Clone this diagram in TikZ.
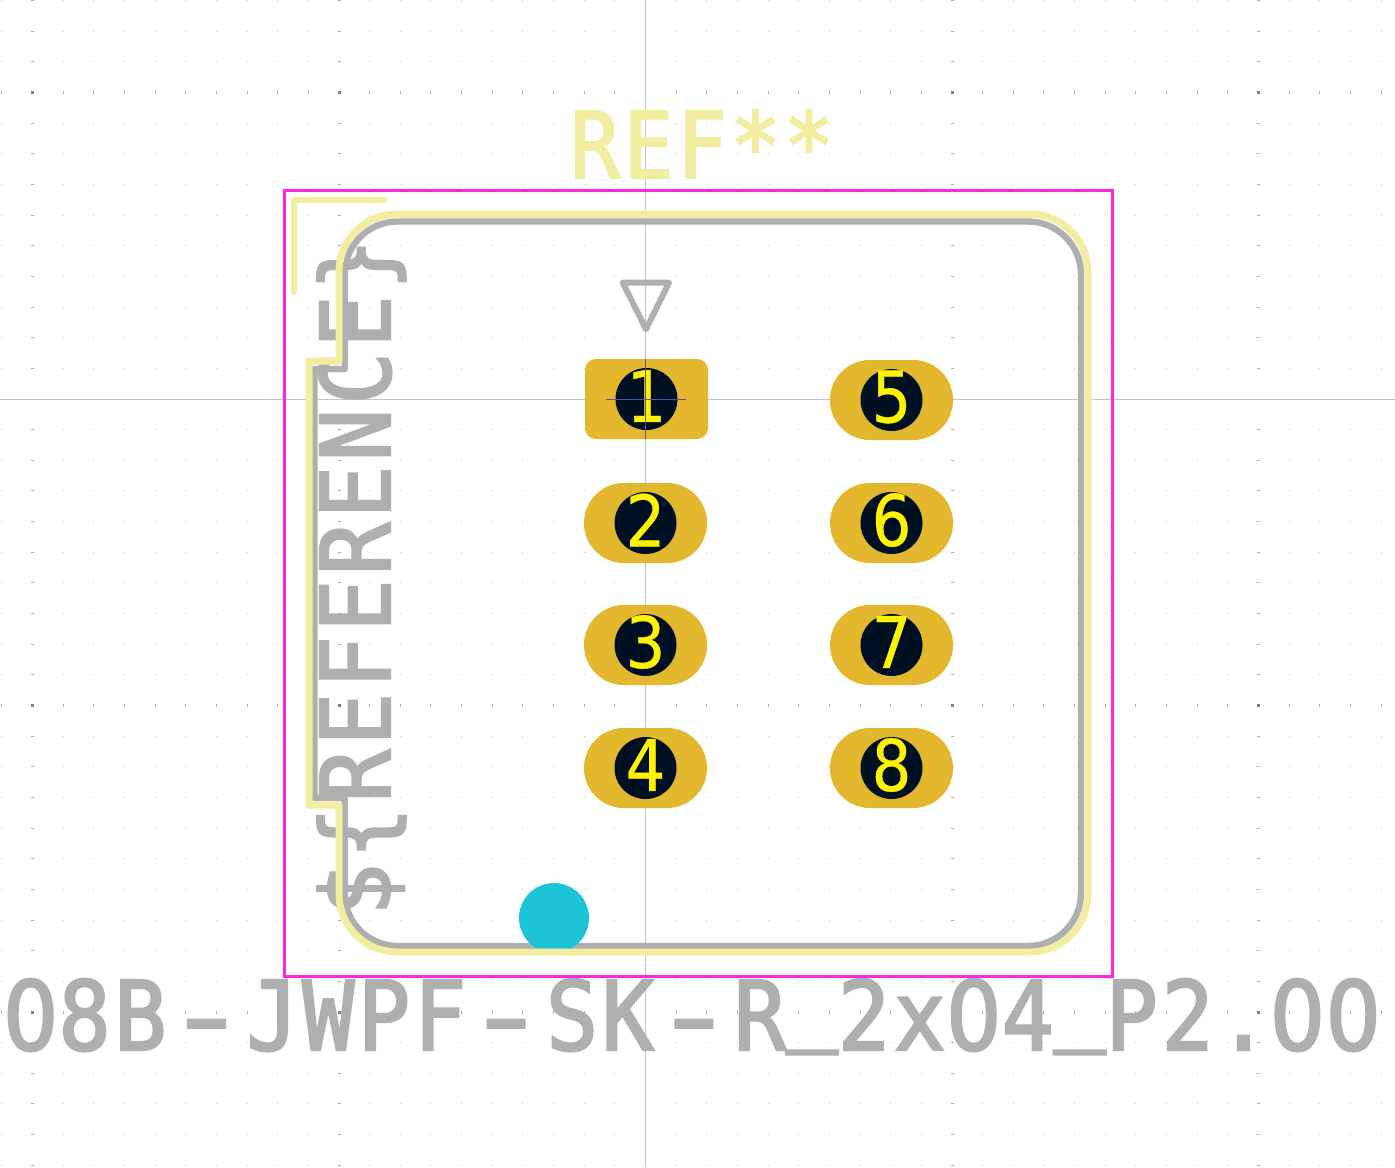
\documentclass[tikz,border=0pt]{standalone}
\usepackage{fontspec}
\usepackage{graphicx}
\usepackage{tikz}
\usetikzlibrary{positioning}
\newfontfamily\strokefont{DejaVu Sans Mono}[FakeBold=2.5,FakeStretch=0.9,LetterSpace=4]
\newfontfamily\zerofont{DejaVu Sans}[FakeBold=2.5,FakeStretch=0.9]
\newfontfamily\padfont{DejaVu Sans}[FakeBold=0.5,FakeStretch=0.88]
\newcommand{\plainzero}{\makebox[0.582em][c]{\zerofont 0}}
\newcommand{\longdash}{\makebox[40pt][c]{\scalebox{1.6}[1]{-}}}
\newcommand{\raisedbar}{\raisebox{0.19em}{\_}}
\definecolor{silkcolor}{HTML}{F2EDA1}
\definecolor{fabcolor}{HTML}{AFAFAF}
\definecolor{crtyardcolor}{HTML}{FF26E2}
\definecolor{padcolor}{HTML}{E3B72E}
\definecolor{holecolor}{HTML}{001023}
\definecolor{axiscolor}{HTML}{C4C4C4}
\definecolor{anchorcolor}{HTML}{5B4FA0}
\definecolor{markcolor}{HTML}{1CC4D6}
\begin{document}
\begin{tikzpicture}[
  x=0.5pt, y=-0.5pt,
  silkline/.style={draw=silkcolor, line width=3.5pt, line join=round},
  fabline/.style={draw=fabcolor, line width=3.2pt, line join=round},
  crtyard/.style={draw=crtyardcolor, line width=1.5pt},
  axisline/.style={draw=axiscolor, line width=0.5pt},
  anchorline/.style={draw=anchorcolor, line width=0.4pt},
  ovalpad/.style={rectangle, fill=padcolor, rounded corners=19.9pt, inner sep=0pt, outer sep=0pt,
                minimum width=61.5pt, minimum height=40pt},
  rectpad/.style={ovalpad, rounded corners=5.5pt},
  drillhole/.style={circle, fill=holecolor, inner sep=0pt, minimum size=31pt},
  padnum/.style={inner sep=0pt, text=yellow, font=\padfont\fontsize{35.5pt}{36pt}\selectfont},
  fabtext/.style={inner sep=0pt, anchor=base, text=fabcolor,
                font=\strokefont\fontsize{48pt}{48pt}\selectfont},
  silktext/.style={fabtext, text=silkcolor, font=\strokefont\fontsize{46pt}{46pt}\selectfont}
]
  \useasboundingbox (0,0) rectangle (1395,1167);
  \fill[white] (0,0) rectangle (1395,1167);
  % grid
  \foreach \i in {-21,...,24}
    \foreach \j in {-13,...,25} {
      \pgfmathsetmacro\dotw{mod(\i,10)==0 ? 3 : 1}
      \pgfmathsetmacro\doth{mod(\j,10)==0 ? 3 : 1}
      \pgfmathsetmacro\dotc{\dotw+\doth>5 ? 50 : (\dotw+\doth>3 ? 33 : 22)}
      \ifnum\i=0\else\ifnum\j=0\else
        \fill[black!\dotc] ({645.5+30.65*\i-\dotw/2},{399+30.65*\j-\doth/2}) rectangle ++(\dotw,\doth);
      \fi\fi
    }
  \draw[axisline] (0,399.5) -- (1395,399.5);
  \draw[axisline] (645.5,0) -- (645.5,1167);
  % texts on fab
  \node[fabtext,rotate=90] (reftext) at (390,577) {\addfontfeature{LetterSpace=5}\$\{REFERENCE\}};
  \node[fabtext] (valtext) at (692,1050) {\plainzero 8B\longdash JWPF\longdash SK\longdash R\raisedbar 2x\plainzero 4\raisedbar P2.\plainzero\plainzero};
  % fab outline
  \draw[fabline] (344.7,369) -- (344.7,274.5) arc[start angle=180,end angle=90,radius=26.5pt]
    -- (1028,221.5) arc[start angle=90,end angle=0,radius=26.5pt]
    -- (1081,893) arc[start angle=0,end angle=-90,radius=26.5pt]
    -- (397.7,946) arc[start angle=-90,end angle=-180,radius=26.5pt]
    -- (344.7,798) -- (314.5,798) -- (314.5,369) -- cycle;
  \draw[fabline,line width=3pt] (622.7,282.7) -- (669,282.7) -- (646,329.3) -- cycle;
  \fill[markcolor] (554,918) circle[radius=17.5pt];
  % silk
  \draw[silkline] (339,361) -- (339,272) arc[start angle=180,end angle=90,radius=29pt]
    -- (1030,214) arc[start angle=90,end angle=0,radius=29pt]
    -- (1088,894) arc[start angle=0,end angle=-90,radius=29pt]
    -- (397,952) arc[start angle=-90,end angle=-180,radius=29pt]
    -- (339,805) -- (309,805) -- (309,361) -- cycle;
  \draw[silkline,line width=3pt,line cap=round] (293.5,292) -- (293.5,199.5) -- (385,199.5);
  \node[silktext] (reftop) at (702,178) {REF**};
  % courtyard
  \draw[crtyard] (284.5,190.5) rectangle (1112.5,976.5);
  % pads
  \node[rectpad] (p1) at (646.5,399) {};
  \node[ovalpad,below=22pt of p1,xshift=-0.5pt] (p2) {};
  \node[ovalpad,below=21pt of p2] (p3) {};
  \node[ovalpad,below=21.5pt of p3] (p4) {};
  \node[ovalpad,right=61pt of p1,yshift=-0.5pt] (p5) {};
  \node[ovalpad,right=61.5pt of p2] (p6) {};
  \node[ovalpad,right=61.5pt of p3] (p7) {};
  \node[ovalpad,right=61.5pt of p4] (p8) {};
  \foreach \n in {1,...,8} {
    \node[drillhole] (h\n) at (p\n) {};
    \node[padnum,yshift=1.5pt] (n\n) at (h\n) {\n};
  }
  \draw[anchorline] (606,399.5) -- (686,399.5);
  \draw[anchorline] (645.5,359) -- (645.5,439);
\end{tikzpicture}
\end{document}
